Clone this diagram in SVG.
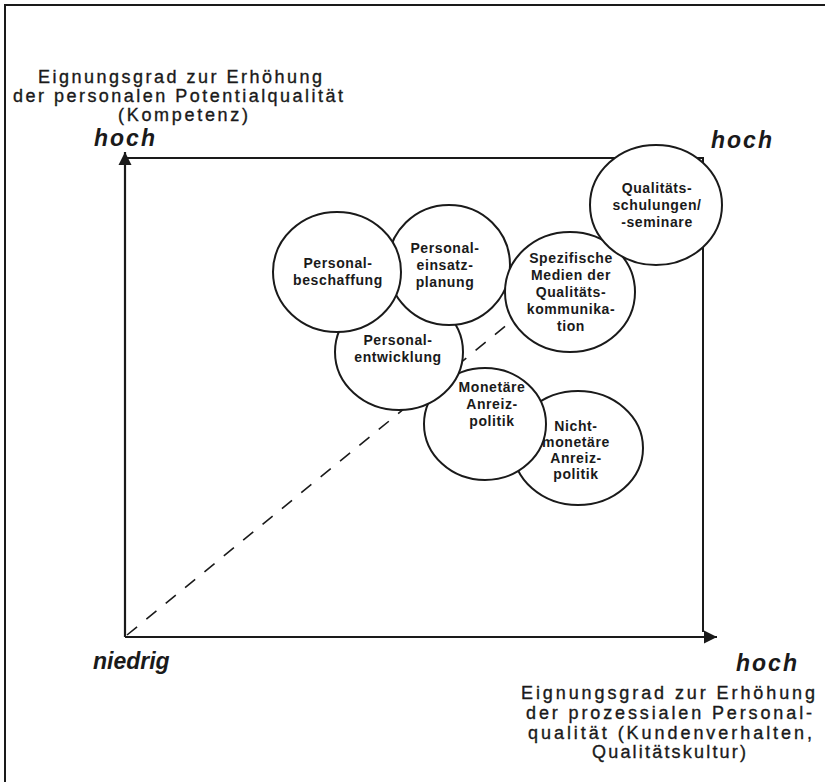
<svg xmlns="http://www.w3.org/2000/svg" width="825" height="782" viewBox="0 0 825 782">
<defs>
<style>
.frame{fill:none;stroke:#1a1a1a;stroke-width:2}
.axis{fill:none;stroke:#1a1a1a;stroke-width:2.2}
.dash{fill:none;stroke:#1a1a1a;stroke-width:1.6;stroke-dasharray:13 12}
.circ{fill:#fff;stroke:#1a1a1a;stroke-width:2}
.lbl{font-family:"Liberation Sans",Arial,sans-serif;font-weight:bold;font-size:14px;letter-spacing:0.6px;fill:#1a1a1a;text-anchor:middle}
.title{font-family:"Liberation Sans",Arial,sans-serif;font-size:18px;fill:#1a1a1a;stroke:#1a1a1a;stroke-width:0.35;text-anchor:middle}
.hl{font-family:"Liberation Sans",Arial,sans-serif;font-weight:bold;font-style:italic;font-size:23px;fill:#1a1a1a}
</style>
<marker id="arr" viewBox="0 0 10 10" refX="10" refY="5" markerWidth="6" markerHeight="6" markerUnits="strokeWidth" orient="auto">
<path d="M0,0 L10,5 L0,10 z" fill="#1a1a1a"/>
</marker>
</defs>
<rect width="825" height="782" fill="#fff"/>
<path class="frame" d="M5,790 L5,5 L830,5"/>

<g id="labels">
<text class="title" x="180" y="83" textLength="284" lengthAdjust="spacing">Eignungsgrad zur Erhöhung</text>
<text class="title" x="178" y="102" textLength="330" lengthAdjust="spacing">der personalen Potentialqualität</text>
<text class="title" x="183" y="121" textLength="130" lengthAdjust="spacing">(Kompetenz)</text>
<text class="hl" x="94" y="146" letter-spacing="2">hoch</text>
<text class="hl" x="711" y="148" letter-spacing="2">hoch</text>
<text class="hl" x="736" y="671" letter-spacing="2">hoch</text>
<text class="hl" x="93" y="669">niedrig</text>
<text class="title" x="668" y="699" textLength="294" lengthAdjust="spacing">Eignungsgrad zur Erhöhung</text>
<text class="title" x="669" y="719" textLength="286" lengthAdjust="spacing">der prozessialen Personal-</text>
<text class="title" x="670" y="739" textLength="284" lengthAdjust="spacing">qualität (Kundenverhalten,</text>
<text class="title" x="669" y="758" textLength="154" lengthAdjust="spacing">Qualitätskultur)</text>
</g>

<g id="connectors">
<path class="axis" d="M125,637 L125,152" marker-end="url(#arr)"/>
<path class="axis" d="M125,637 L717,637" marker-end="url(#arr)"/>
<path class="frame" d="M125,158 L703,158 L703,632"/>
<path class="dash" d="M127,635 L530,306"/>
</g>

<g id="n-nichtmonetaer">
<ellipse class="circ" cx="578" cy="448" rx="65" ry="57"/>
<text class="lbl" x="576" y="431">Nicht-</text>
<text class="lbl" x="576" y="447">monetäre</text>
<text class="lbl" x="576" y="463">Anreiz-</text>
<text class="lbl" x="576" y="479">politik</text>
</g>
<g id="n-monetaer">
<ellipse class="circ" cx="485" cy="424" rx="61" ry="56"/>
<text class="lbl" x="492" y="392">Monetäre</text>
<text class="lbl" x="492" y="409">Anreiz-</text>
<text class="lbl" x="492" y="426">politik</text>
</g>
<g id="n-entwicklung">
<ellipse class="circ" cx="399" cy="352" rx="64" ry="58"/>
<text class="lbl" x="398" y="345">Personal-</text>
<text class="lbl" x="398" y="362">entwicklung</text>
</g>
<g id="n-einsatz">
<ellipse class="circ" cx="449" cy="265" rx="61" ry="60"/>
<text class="lbl" x="445" y="253">Personal-</text>
<text class="lbl" x="445" y="270">einsatz-</text>
<text class="lbl" x="445" y="287">planung</text>
</g>
<g id="n-beschaffung">
<ellipse class="circ" cx="337" cy="272" rx="64" ry="60"/>
<text class="lbl" x="338" y="268">Personal-</text>
<text class="lbl" x="338" y="285">beschaffung</text>
</g>
<g id="n-medien">
<ellipse class="circ" cx="570" cy="292" rx="65" ry="60"/>
<text class="lbl" x="571" y="263">Spezifische</text>
<text class="lbl" x="571" y="280">Medien der</text>
<text class="lbl" x="571" y="297">Qualitäts-</text>
<text class="lbl" x="571" y="314">kommunika-</text>
<text class="lbl" x="571" y="331">tion</text>
</g>
<g id="n-schulungen">
<ellipse class="circ" cx="656" cy="205" rx="66" ry="60"/>
<text class="lbl" x="657" y="193">Qualitäts-</text>
<text class="lbl" x="657" y="210">schulungen/</text>
<text class="lbl" x="657" y="227">-seminare</text>
</g>
</svg>
